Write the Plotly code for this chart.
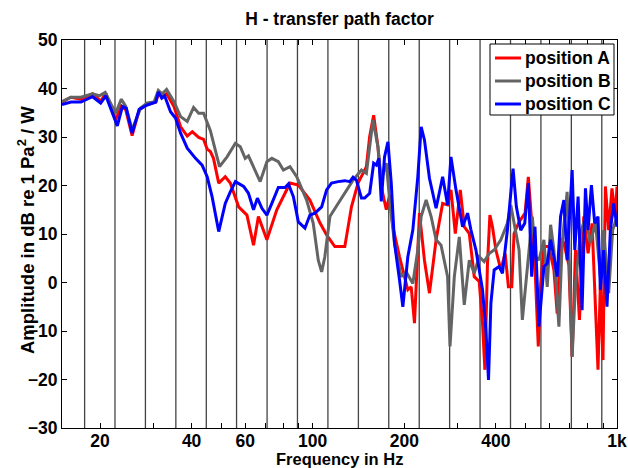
import plotly.graph_objects as go

# Frequencies (Hz) and amplitudes (dB re 1 Pa^2/W)
freq_a = [15, 16.05, 17.3, 18.9, 20.1, 20.9, 22.5, 23.5, 24.3, 25.5, 26.9, 28.6, 30.5, 31.2, 32.0, 33.1,
          35.0, 36.8, 38.7, 40.2, 42.2, 43.8, 45.0, 46.1, 47.2, 49.1, 51.6, 53.6, 57.1, 60.8, 63.9, 66.3,
          70.7, 76.2, 81.1, 84.2, 89.7, 97.9, 105.6, 111.1, 118.2, 127.5, 134.1, 140.9, 146.3, 150.1,
          153.9, 158.6, 163.8, 168.0, 174.5, 179.0, 183.4, 192.9, 205.4, 210.7, 216.0, 224.3, 232.9,
          241.9, 254.4, 267.3, 277.5, 284.7, 294.2, 305.5, 314.8, 327.0, 339.5, 352.5, 361.4, 368.0,
          375.3, 382.2, 389.7, 399.9, 415.2, 428.9, 439.6, 451.0, 458.9, 476.6, 498.7, 511.2, 526.8,
          537.6, 551.2, 561.2, 575.3, 597.3, 620.4, 636.0, 652.5, 669.0, 694.5, 712.1, 730.5, 752.8,
          777.6, 803.4, 828.0, 849.4, 866.1, 881.8, 899.4, 915.8, 938.9, 962.6, 987.5, 1000]
amp_a = [37.2, 38.2, 37.8, 38.9, 37.4, 39.0, 33.5, 36.4, 35.6, 30.3, 35.6, 36.7, 37.2, 39.1, 38.3, 38.9,
         36.3, 32.1, 30.2, 31.1, 29.9, 29.5, 27.5, 27.0, 25.6, 20.5, 21.8, 20.5, 15.6, 13.9, 7.7, 13.6,
         8.8, 15.0, 18.4, 20.5, 20.1, 17.0, 12.3, 9.8, 7.4, 7.4, 15.6, 20.5, 22.5, 23.9,
         30.1, 34.5, 28.0, 19.8, 15.0, 18.0, 11.5, 5.3, -1.5, -0.9, -8.4, 14.3, 4.6,
         -2.2, 8.8, 16.3, 16.0, 19.1, 10.1, 19.1, 11.5, 10.1, 1.2, 0.2, -8.4, -18.0,
         3.9, 13.9, 11.5, 6.7, 2.6, 6.0, -0.9, -0.9, 10.1, 12.5, 14.3, 21.8, 10.8,
         3.3, -13.2, -0.2, 7.4, 7.4, 2.6, -6.4, 9.1, 8.1, 3.6, -15.3, 6.7, -7.7,
         13.6, 6.0, 12.2, -3.6, -18.0, -0.2, -16.0, 19.8, 10.8, 19.4, 13.6, 19.8]

freq_b = [15, 16.05, 17.3, 18.9, 19.9, 20.8, 22.5, 23.5, 24.3, 25.5, 27.2, 28.6, 30.1, 31.1, 32.0, 33.1,
          35.0, 36.8, 38.7, 40.6, 42.2, 43.8, 46.1, 49.4, 52.3, 55.7, 57.8, 60.0, 61.5, 67.2, 70.7,
          73.4, 77.1, 80.1, 84.2, 88.6, 95.5, 100.4, 104.3, 107.0, 109.6, 113.9, 121.2, 129.1, 135.7,
          144.6, 150.1, 157.8, 163.8, 168.0, 174.5, 179.0, 185.7, 195.3, 202.9, 213.3, 221.5, 227.2,
          235.9, 245.0, 254.4, 264.1, 270.7, 277.5, 282.6, 292.0, 303.2, 314.8, 327.0, 339.5, 352.5,
          366.0, 380.2, 394.8, 415.2, 436.3, 447.6, 462.4, 476.6, 488.6, 501.3, 513.9, 526.8, 540.4,
          554.0, 575.3, 589.8, 605.1, 620.4, 644.3, 660.5, 685.7, 698.2, 712.1, 730.5, 758.5, 787.6,
          817.9, 849.4, 881.8, 904.1, 938.9, 967.7, 1000]
amp_b = [37.3, 38.2, 38.2, 38.9, 38.5, 39.2, 34.9, 37.8, 36.3, 31.5, 36.0, 37.0, 37.2, 39.6, 38.9, 39.8,
         37.3, 34.2, 33.2, 36.1, 34.9, 34.9, 31.3, 23.9, 25.9, 28.7, 28.0, 25.6, 26.1, 20.8, 24.9,
         25.6, 24.9, 23.2, 23.9, 21.8, 17.0, 12.2, 4.6, 2.2, 5.3, 13.6, 16.3, 19.1, 21.1,
         23.2, 22.5, 33.5, 28.0, 21.1, 24.6, 17.0, 8.1, 1.2, 2.2, -0.2, 6.7, 13.6,
         17.0, 13.6, 8.8, 7.7, 4.6, 1.2, -13.2, 1.2, 9.4, -4.6, 4.6, 1.9, 5.3,
         4.3, 6.0, 6.7, 8.8, 12.2, 16.0, 10.8, 6.7, -7.7, -0.9, 6.7, 13.6, 5.3,
         4.6, 8.8, -0.9, 11.9, 6.7, -9.1, 8.1, 18.7, 4.6, -15.3, -0.2, 10.1, 13.6,
         8.1, 12.5, 1.2, 10.8, -2.2, 10.8, 13.6]

freq_c = [15, 16.05, 17.3, 18.9, 20.1, 20.9, 22.8, 23.7, 24.4, 25.5, 26.9, 28.6, 30.5, 31.1, 31.9, 32.6,
          34.1, 35.4, 36.8, 38.7, 41.2, 43.3, 45.0, 46.7, 49.1, 51.6, 53.6, 55.7, 59.3, 61.5, 63.9,
          65.8, 68.1, 70.7, 73.4, 77.1, 81.1, 83.2, 86.4, 89.7, 94.3, 97.9, 101.7, 107.0, 111.1, 115.3,
          121.2, 127.5, 132.4, 135.7, 139.2, 144.6, 148.2, 153.9, 158.6, 161.9, 165.0, 168.0, 172.2,
          176.7, 181.2, 185.7, 192.9, 197.8, 205.4, 213.3, 221.5, 227.2, 232.9, 241.9, 254.4, 267.3,
          277.5, 284.7, 295.7, 310.8, 322.8, 331.2, 343.9, 361.4, 370.8, 378.2, 385.1, 394.8, 409.9,
          420.3, 436.3, 447.6, 455.4, 467.0, 482.7, 497.5, 511.2, 524.4, 537.6, 554.0, 575.3, 589.8,
          605.1, 620.4, 636.0, 652.5, 669.0, 685.7, 712.1, 726.6, 745.0, 767.7, 787.6, 803.4, 824.1,
          844.9, 866.1, 881.8, 904.1, 927.0, 951.0, 975.0, 1000]
amp_c = [36.7, 37.2, 37.2, 38.3, 37.0, 38.5, 32.3, 36.3, 35.9, 30.8, 35.7, 36.6, 37.2, 39.3, 38.0, 38.5,
         35.2, 33.9, 30.8, 27.7, 25.6, 24.2, 21.8, 17.7, 10.5, 16.3, 18.7, 20.8, 19.8, 18.4, 15.0,
         17.4, 15.3, 13.9, 16.3, 19.6, 19.6, 20.3, 17.7, 12.5, 11.2, 13.9, 14.3, 15.6, 19.1, 20.5,
         20.8, 21.0, 20.8, 21.7, 21.1, 17.4, 17.4, 18.4, 24.6, 24.2, 25.6, 16.7, 25.9,
         29.0, 20.5, 8.1, 0.5, -5.0, 5.3, 10.8, 21.8, 32.1, 29.4, 21.5, 15.3, 21.8,
         16.0, 25.9, 19.1, 11.5, 14.3, 10.8, 6.7, -1.5, -9.8, -20.1, -4.3, 2.6, 3.3,
         1.9, 10.8, 19.1, 23.5, 15.6, 10.8, 12.2, 20.5, 1.2, 11.5, -9.1, 3.3, 3.9,
         8.8, 5.3, 1.2, 13.6, 17.0, 4.6, 23.2, 6.7, 17.7, -5.7, 19.4, 10.8, 20.1,
         12.2, 13.6, -1.5, 6.7, -5.0, 10.8, 16.3, 11.5]

# third-octave band edges (Hz)
band_edges = [17.8, 22.4, 28.2, 35.5, 44.7, 56.2, 70.8, 89.1, 112.2, 141.3, 177.8, 223.9,
              281.8, 354.8, 446.7, 562.3, 707.9, 891.3]

x_tickvals = [20, 40, 60, 100, 200, 400, 1000]
x_ticktext = ["20", "40", "60", "100", "200", "400", "1k"]
x_minor_tickvals = [30, 50, 70, 80, 90, 300, 500, 600, 700, 800, 900]
y_tickvals = [-30, -20, -10, 0, 10, 20, 30, 40, 50]

series_names = ["position A", "position B", "position C"]
series_colors = ["#ff0000", "#646464", "#0000ff"]

FONT = "Liberation Sans, Arial, Helvetica, sans-serif"
FS = 17.5

# plot area in pixels (for paper-coordinate helpers)
L, R, T, B = 62, 617, 40, 428
W_PX, H_PX = R - L, B - T


def px(xp):
    return (xp - L) / W_PX


def py(yp):
    return (B - yp) / H_PX


fig = go.Figure()
for name, color, fx, fy in zip(series_names, series_colors,
                                [freq_a, freq_b, freq_c], [amp_a, amp_b, amp_c]):
    fig.add_trace(go.Scatter(x=fx, y=fy, mode="lines", name=name, showlegend=False,
                             line=dict(color=color, width=3)))

for fe in band_edges:
    fig.add_shape(type="line", xref="x", yref="paper", x0=fe, x1=fe, y0=0, y1=1,
                  line=dict(color="#444444", width=1.3), layer="below")

# legend box (drawn manually, MATLAB-style)
fig.add_shape(type="rect", xref="paper", yref="paper", x0=px(490), x1=px(614),
              y0=py(115), y1=py(44), line=dict(color="black", width=1),
              fillcolor="white", layer="above")
for i, (name, color) in enumerate(zip(series_names, series_colors)):
    yy = 58 + 23 * i
    fig.add_shape(type="line", xref="paper", yref="paper", x0=px(495), x1=px(521),
                  y0=py(yy), y1=py(yy), line=dict(color=color, width=3), layer="above")
    fig.add_annotation(text=name, xref="paper", yref="paper", x=px(523), y=py(yy),
                       xanchor="left", yanchor="middle", showarrow=False,
                       font=dict(family=FONT, size=FS, color="black", weight="bold"))

# axis titles
fig.add_annotation(text="Amplitude in dB re 1 Pa<sup>2</sup> / W", xref="paper", yref="paper",
                   x=px(26), y=py(230), xanchor="center", yanchor="middle", textangle=-90,
                   showarrow=False,
                   font=dict(family=FONT, size=18.5, color="black", weight="bold"))
fig.add_annotation(text="Frequency in Hz", xref="paper", yref="paper",
                   x=px(339), y=py(458.5), xanchor="center", yanchor="middle",
                   showarrow=False,
                   font=dict(family=FONT, size=16.5, color="black", weight="bold"))

fig.update_layout(
    width=628, height=468,
    margin=dict(l=L, r=628 - R, t=T, b=468 - B),
    paper_bgcolor="white", plot_bgcolor="white",
    font=dict(family=FONT, size=FS, color="black", weight="bold"),
    title=dict(text="H - transfer path factor", x=(L + R) / 2 / 628, xanchor="center",
               y=1 - 19 / 468, yanchor="middle",
               font=dict(family=FONT, size=FS, color="black", weight="bold")),
    showlegend=False,
)
fig.update_xaxes(type="log", range=[1.17609, 3.0], tickvals=x_tickvals, ticktext=x_ticktext,
                 ticks="inside", ticklen=5, tickwidth=1, tickcolor="black",
                 minor=dict(tickvals=x_minor_tickvals, ticks="inside", ticklen=5, tickwidth=1,
                            tickcolor="black", showgrid=False),
                 showline=True, linecolor="black", linewidth=1.2, mirror="ticks",
                 showgrid=False, zeroline=False, automargin=False, ticklabelstandoff=-3,
                 tickfont=dict(family=FONT, size=FS, color="black", weight="bold"))
fig.update_yaxes(range=[-30, 50], tickvals=y_tickvals,
                 ticks="inside", ticklen=5, tickwidth=1, tickcolor="black",
                 showline=True, linecolor="black", linewidth=1.2, mirror="ticks",
                 showgrid=False, zeroline=False, automargin=False,
                 tickfont=dict(family=FONT, size=FS, color="black", weight="bold"))

fig.write_html("out.html")
